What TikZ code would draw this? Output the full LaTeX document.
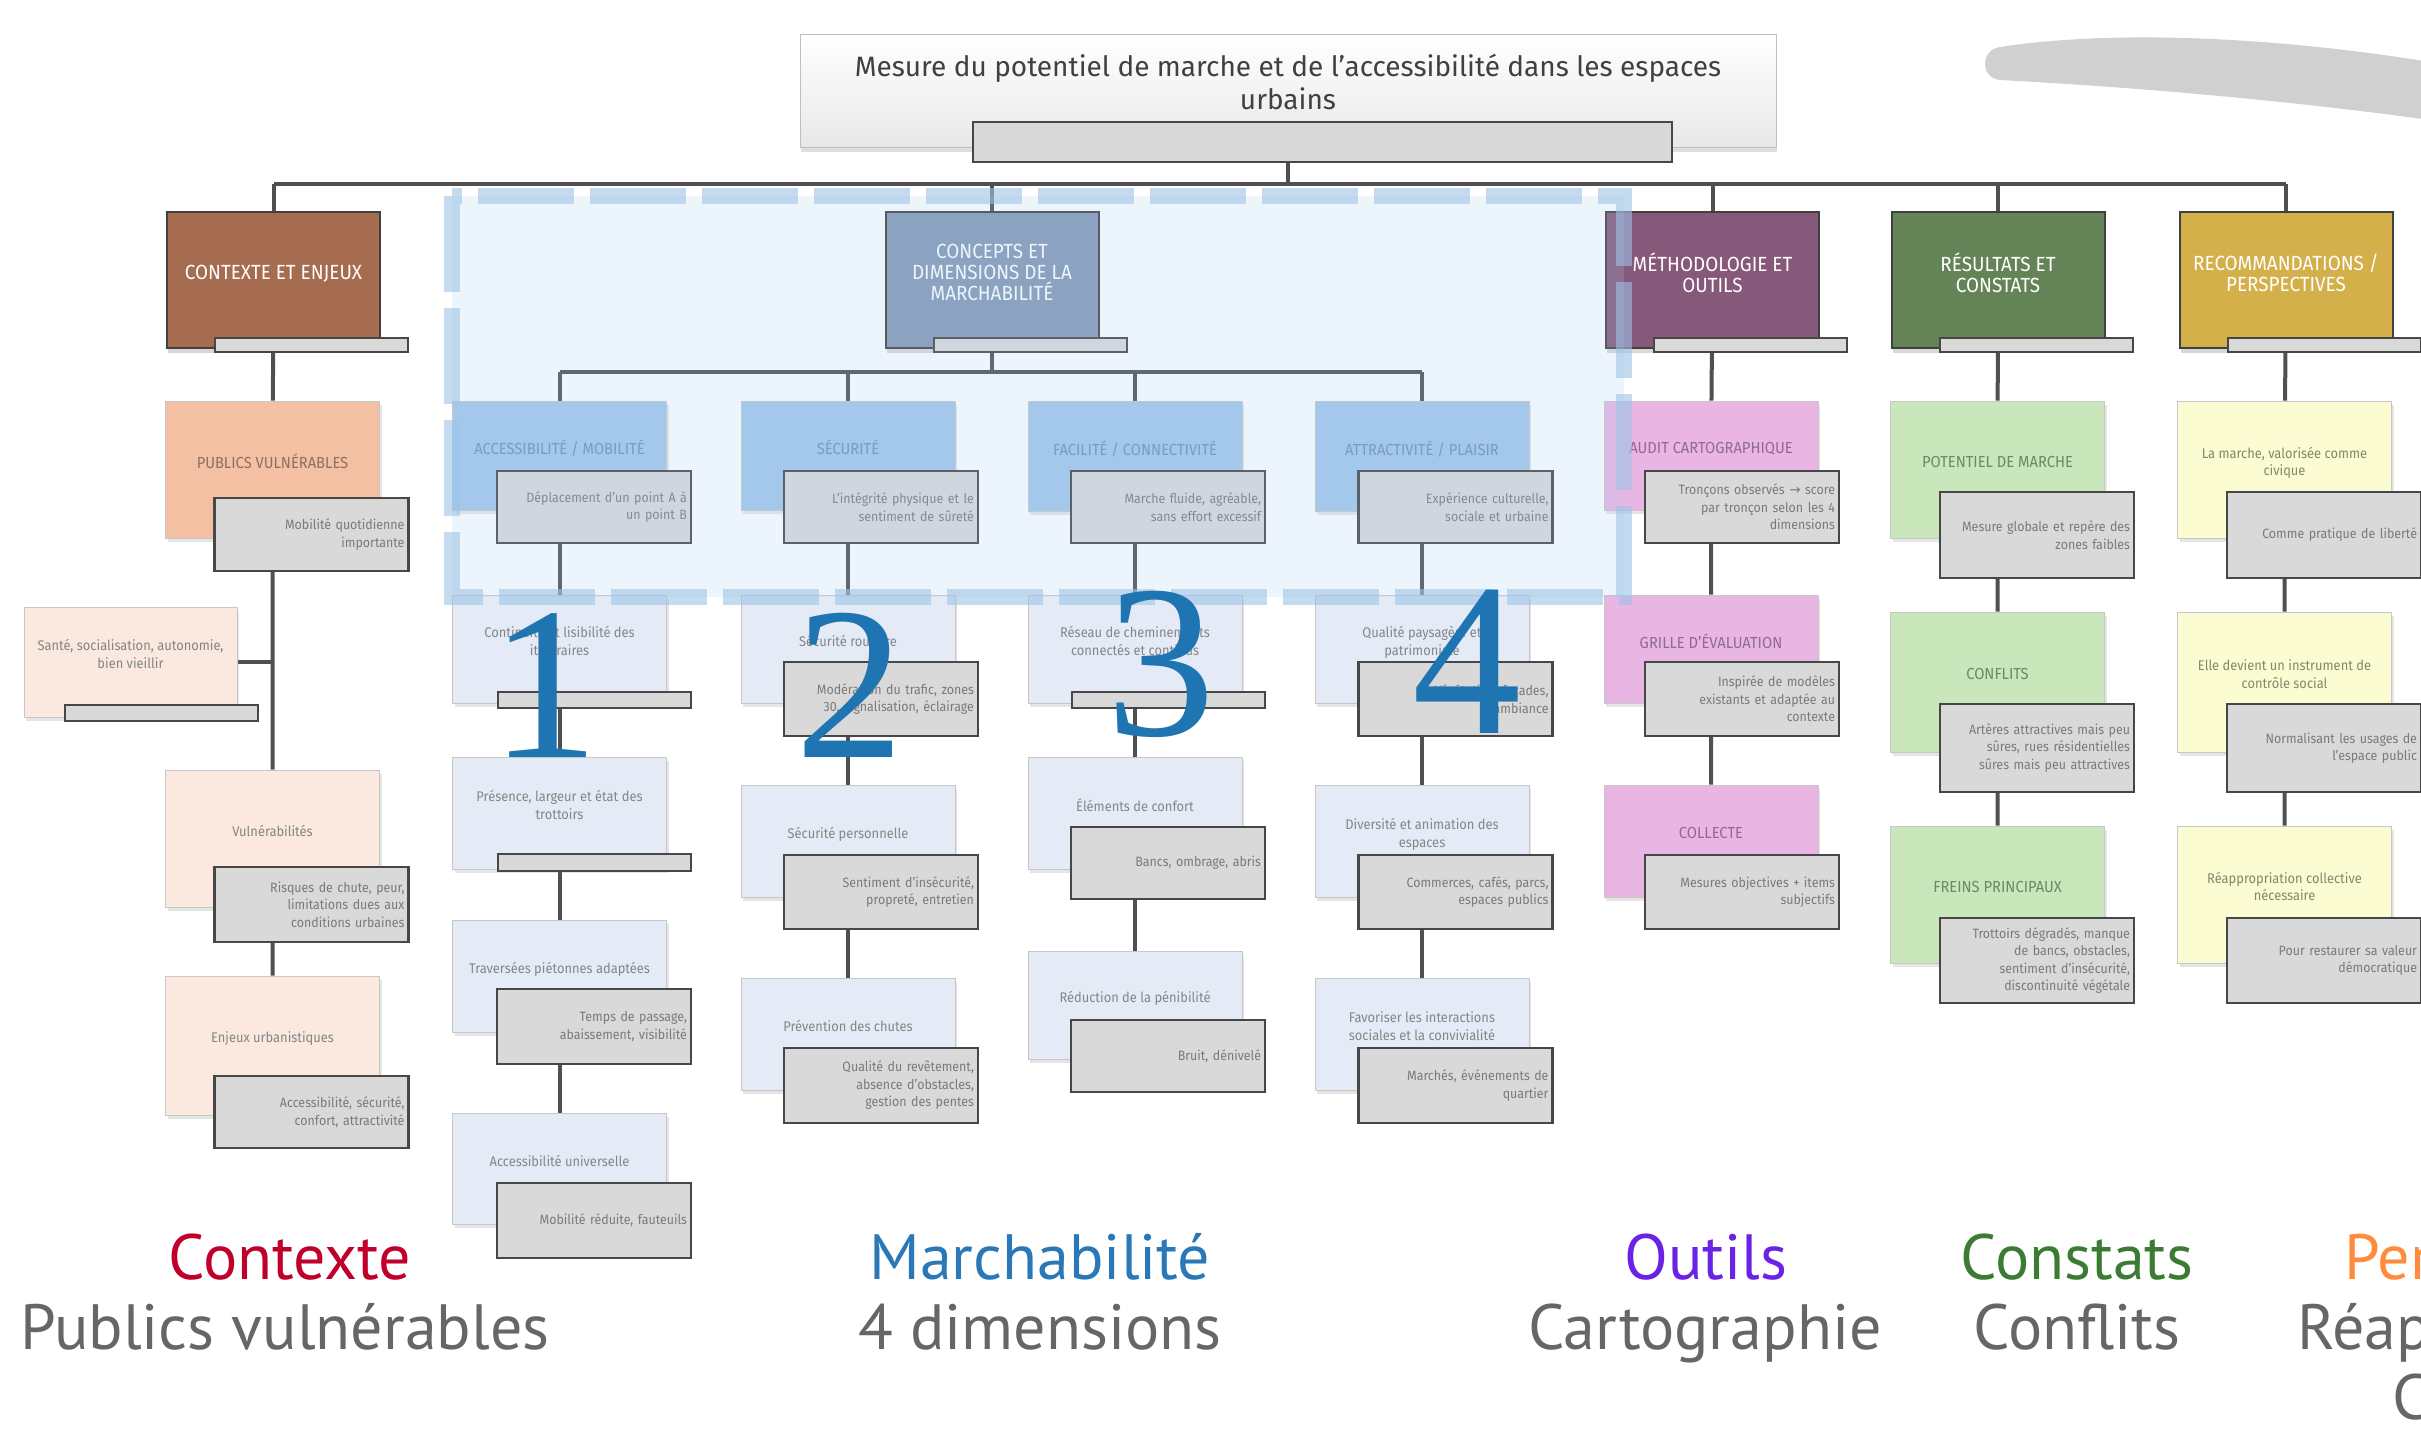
\documentclass[tikz,border=0pt]{standalone}
\usepackage{fontspec}
\setsansfont{Fira Sans}
\newfontfamily\boxfont[FakeStretch=0.92]{Fira Sans}
\newfontfamily\captfont{PT Sans}
\newfontfamily\numfont{Liberation Serif}
\newfontfamily\arrowfont{DejaVu Sans}
\usetikzlibrary{shadows,backgrounds}

\definecolor{linkgray}{HTML}{505050}
\definecolor{barfill}{HTML}{D9D9D9}
\definecolor{itemtext}{HTML}{858585}
\definecolor{notetext}{HTML}{7A7A7A}
\definecolor{titlegray}{HTML}{404040}
\definecolor{ctxbrown}{HTML}{A56C4F}
\definecolor{cptsteel}{HTML}{8499B4}
\definecolor{metplum}{HTML}{86587A}
\definecolor{resgreen}{HTML}{648457}
\definecolor{recgold}{HTML}{D4B04B}
\definecolor{ctxpeach}{HTML}{F4C0A3}
\definecolor{ctxpale}{HTML}{FBE8DE}
\definecolor{cptsky}{HTML}{A2C7EA}
\definecolor{cptpale}{HTML}{E5EBF6}
\definecolor{metpink}{HTML}{E9B6E3}
\definecolor{respale}{HTML}{C9E7BA}
\definecolor{recpale}{HTML}{FBFCD2}
\definecolor{ctxhead}{HTML}{8E6F60}
\definecolor{cpthead}{HTML}{6E90B8}
\definecolor{methead}{HTML}{8E6C8A}
\definecolor{reshead}{HTML}{6B8A60}
\definecolor{rechead}{HTML}{86866A}
\definecolor{overlayfill}{HTML}{A9CDF0}
\definecolor{overlayline}{HTML}{9DC3E6}
\definecolor{numblue}{HTML}{1F75B2}
\definecolor{swoosh}{HTML}{D0D0D0}
\definecolor{captgray}{HTML}{666666}
\definecolor{ctxred}{HTML}{C0002B}
\definecolor{cptblue}{HTML}{2B78B8}
\definecolor{metviolet}{HTML}{6A22E6}
\definecolor{resleaf}{HTML}{3B7B34}
\definecolor{recorange}{HTML}{FF8B3C}

\begin{document}
\begin{tikzpicture}[x=1pt, y=-1pt,
    link/.style={draw=linkgray, line width=4pt},
    titlebox/.style={draw=black!25, line width=1pt, top color=white, bottom color=black!9,
        minimum width=976pt, minimum height=113pt, align=center, text=titlegray,
        font=\sffamily\fontsize{28}{33}\selectfont, text depth=18pt,
        drop shadow={shadow xshift=1pt, shadow yshift=-5pt, opacity=0.25}},
    topbox/.style={draw=black!75, line width=2pt, minimum width=213pt, minimum height=136pt,
        inner sep=2pt, align=center, text=white, font=\boxfont\fontsize{20.5}{21}\selectfont,
        text depth=15pt,
        drop shadow={shadow xshift=1pt, shadow yshift=-5pt, opacity=0.3}},
    tabbar/.style={draw=black!72, line width=2pt, fill=barfill, minimum width=193pt, inner sep=0pt},
    itembox/.style={draw=black!22, line width=0.8pt, minimum width=214pt, inner sep=2pt,
        align=center, text=itemtext, font=\boxfont\fontsize{14}{17.5}\selectfont,
        text depth=16pt,
        drop shadow={shadow xshift=2pt, shadow yshift=-4pt, opacity=0.2}},
    headbox/.style={itembox, font=\boxfont\fontsize{16}{19}\selectfont},
    notebox/.style={draw=black!72, line width=2.2pt, fill=barfill, text width=186pt,
        inner xsep=4pt, inner ysep=2pt, align=right, text=notetext,
        font=\boxfont\fontsize{13.5}{17.5}\selectfont},
    numeral/.style={text=numblue, font=\numfont\fontsize{218}{218}\selectfont, inner sep=0pt, anchor=base},
    capt/.style={font=\captfont\fontsize{64}{70}\selectfont, inner sep=0pt, anchor=base},
]
\useasboundingbox (0,0) rectangle (2421,1428);
\clip (0,0) rectangle (2421,1428);
\begin{scope}[on background layer]
    \fill[white] (0,0) rectangle (2421,1428);
\end{scope}

% Grey brush stroke
\fill[swoosh] (2000,47) .. controls (2110,30) and (2270,36) .. (2430,62) -- (2430,120)
    .. controls (2300,102) and (2150,88) .. (2000,80) .. controls (1980,78) and (1980,50) .. (2000,47);

% Title
\node[titlebox] (title) at (1288,90.5) {Mesure du potentiel de marche et de l’accessibilité dans les espaces\\urbains};
\node[tabbar, minimum width=699pt, minimum height=40pt] (titlebar) at (1322.5,142) {};
\coordinate (bus) at (1288,184);

% Main branches
\node[topbox, fill=ctxbrown] (ctx) at (273.5,280) {CONTEXTE ET ENJEUX};
\node[topbox, fill=cptsteel] (cpt) at (992,280) {CONCEPTS ET\\DIMENSIONS DE LA\\MARCHABILITÉ};
\node[topbox, fill=metplum] (met) at (1712.5,280) {MÉTHODOLOGIE ET\\OUTILS};
\node[topbox, fill=resgreen] (res) at (1998,280) {RÉSULTATS ET\\CONSTATS};
\node[topbox, fill=recgold] (rec) at (2286,280) {RECOMMANDATIONS /\\PERSPECTIVES};
\node[tabbar, minimum height=14pt] (ctxbar) at (311.5,345) {};
\node[tabbar, minimum height=14pt] (cptbar) at (1030.5,345) {};
\node[tabbar, minimum height=14pt] (metbar) at (1750.5,345) {};
\node[tabbar, minimum height=14pt] (resbar) at (2036.5,345) {};
\node[tabbar, minimum height=14pt] (recbar) at (2324.5,345) {};

% Contexte column
\node[headbox, fill=ctxpeach, text=ctxhead, minimum height=137pt] (pub) at (272.5,469.5) {PUBLICS VULNÉRABLES};
\node[notebox, minimum height=73pt] (pubnote) at (311.5,534.5) {Mobilité quotidienne\\importante};
\node[itembox, fill=ctxpale, minimum width=213pt, minimum height=110pt] (sante) at (130.5,662) {Santé, socialisation, autonomie,\\bien vieillir};
\node[tabbar, minimum height=16pt] (santebar) at (161.5,713) {};
\node[itembox, fill=ctxpale, minimum height=137pt] (vul) at (272.5,838.5) {Vulnérabilités};
\node[notebox, minimum height=75pt] (vulnote) at (311.5,904.5) {Risques de chute, peur,\\limitations dues aux\\conditions urbaines};
\node[itembox, fill=ctxpale, minimum height=139pt] (enj) at (272.5,1045.5) {Enjeux urbanistiques};
\node[notebox, minimum height=72pt] (enjnote) at (311.5,1112) {Accessibilité, sécurité,\\confort, attractivité};

% Dimension 1
\node[headbox, fill=cptsky, text=cpthead, minimum height=109pt] (acc) at (559.5,455.5) {ACCESSIBILITÉ / MOBILITÉ};
\node[notebox, minimum height=72pt] (accnote) at (594,507) {Déplacement d’un point A à\\un point B};
\node[itembox, fill=cptpale, minimum height=108pt] (cont) at (559.5,649) {Continuité et lisibilité des\\itinéraires};
\node[tabbar, minimum height=16pt] (contbar) at (594,700) {};
\node[itembox, fill=cptpale, minimum height=112pt] (pres) at (559.5,813) {Présence, largeur et état des\\trottoirs};
\node[tabbar, minimum height=17pt] (presbar) at (594,862.5) {};
\node[itembox, fill=cptpale, minimum height=112pt] (trav) at (559.5,976) {Traversées piétonnes adaptées};
\node[notebox, minimum height=75pt] (travnote) at (594,1026.5) {Temps de passage,\\abaissement, visibilité};
\node[itembox, fill=cptpale, minimum height=111pt] (univ) at (559.5,1168.5) {Accessibilité universelle};
\node[notebox, minimum height=75pt] (univnote) at (594,1220.5) {Mobilité réduite, fauteuils};

% Dimension 2
\node[headbox, fill=cptsky, text=cpthead, minimum height=109pt] (secu) at (848,455.5) {SÉCURITÉ};
\node[notebox, minimum height=72pt] (secunote) at (881,507) {L’intégrité physique et le\\sentiment de sûreté};
\node[itembox, fill=cptpale, minimum height=108pt] (route) at (848,649) {Sécurité routière};
\node[notebox, minimum height=74pt] (routenote) at (881,699) {Modération du trafic, zones\\30, signalisation, éclairage};
\node[itembox, fill=cptpale, minimum height=112pt] (perso) at (848,841) {Sécurité personnelle};
\node[notebox, minimum height=74pt] (personote) at (881,892) {Sentiment d’insécurité,\\propreté, entretien};
\node[itembox, fill=cptpale, minimum height=112pt] (chute) at (848,1034) {Prévention des chutes};
\node[notebox, minimum height=75pt] (chutenote) at (881,1085.5) {Qualité du revêtement,\\absence d’obstacles,\\gestion des pentes};

% Dimension 3
\node[headbox, fill=cptsky, text=cpthead, minimum height=110pt] (faci) at (1135,456) {FACILITÉ / CONNECTIVITÉ};
\node[notebox, minimum height=72pt] (facinote) at (1168,507) {Marche fluide, agréable,\\sans effort excessif};
\node[itembox, fill=cptpale, minimum height=108pt] (reseau) at (1135,649) {Réseau de cheminements\\connectés et continus};
\node[tabbar, minimum height=16pt] (reseaubar) at (1168,700) {};
\node[itembox, fill=cptpale, minimum height=112pt] (confort) at (1135,813) {Éléments de confort};
\node[notebox, minimum height=72pt] (confortnote) at (1168,863) {Bancs, ombrage, abris};
\node[itembox, fill=cptpale, minimum height=108pt] (penib) at (1135,1005) {Réduction de la pénibilité};
\node[notebox, minimum height=72pt] (penibnote) at (1168,1056) {Bruit, dénivelé};

% Dimension 4
\node[headbox, fill=cptsky, text=cpthead, minimum height=110pt] (attr) at (1422,456) {ATTRACTIVITÉ / PLAISIR};
\node[notebox, minimum height=72pt] (attrnote) at (1455.5,507) {Expérience culturelle,\\sociale et urbaine};
\node[itembox, fill=cptpale, minimum height=108pt] (paysage) at (1422,649) {Qualité paysagère et\\patrimoniale};
\node[notebox, minimum height=74pt] (paysagenote) at (1455.5,699) {Végétation, façades,\\ambiance};
\node[itembox, fill=cptpale, minimum height=112pt] (divers) at (1422,841) {Diversité et animation des\\espaces};
\node[notebox, minimum height=74pt] (diversnote) at (1455.5,892) {Commerces, cafés, parcs,\\espaces publics};
\node[itembox, fill=cptpale, minimum height=112pt] (convi) at (1422,1034) {Favoriser les interactions\\sociales et la convivialité};
\node[notebox, minimum height=75pt] (convinote) at (1455.5,1085.5) {Marchés, événements de\\quartier};

% Methodologie column
\node[headbox, fill=metpink, text=methead, minimum height=109pt] (audit) at (1711,455.5) {AUDIT CARTOGRAPHIQUE};
\node[notebox, minimum height=72pt] (auditnote) at (1742,507) {Tronçons observés {\arrowfont →} score\\par tronçon selon les 4\\dimensions};
\node[headbox, fill=metpink, text=methead, minimum height=108pt] (grille) at (1711,649) {GRILLE D’ÉVALUATION};
\node[notebox, minimum height=74pt] (grillenote) at (1742,699) {Inspirée de modèles\\existants et adaptée au\\contexte};
\node[headbox, fill=metpink, text=methead, minimum height=112pt] (collecte) at (1711,841) {COLLECTE};
\node[notebox, minimum height=74pt] (collectenote) at (1742,892) {Mesures objectives + items\\subjectifs};

% Resultats column
\node[headbox, fill=respale, text=reshead, minimum height=137pt] (potent) at (1997.5,469.5) {POTENTIEL DE MARCHE};
\node[notebox, minimum height=86pt] (potentnote) at (2037,535) {Mesure globale et repère des\\zones faibles};
\node[headbox, fill=respale, text=reshead, minimum height=140pt] (conflit) at (1997.5,682) {CONFLITS};
\node[notebox, minimum height=88pt] (conflitnote) at (2037,748) {Artères attractives mais peu\\sûres, rues résidentielles\\sûres mais peu attractives};
\node[headbox, fill=respale, text=reshead, minimum height=137pt] (freins) at (1997.5,894.5) {FREINS PRINCIPAUX};
\node[notebox, minimum height=85pt] (freinsnote) at (2037,960.5) {Trottoirs dégradés, manque\\de bancs, obstacles,\\sentiment d’insécurité,\\discontinuité végétale};

% Recommandations column
\node[itembox, fill=recpale, text=rechead, minimum height=137pt] (valor) at (2284.5,469.5) {La marche, valorisée comme\\civique};
\node[notebox, minimum height=86pt] (valornote) at (2324,535) {Comme pratique de liberté};
\node[itembox, fill=recpale, text=rechead, minimum height=140pt] (controle) at (2284.5,682) {Elle devient un instrument de\\contrôle social};
\node[notebox, minimum height=88pt] (controlenote) at (2324,748) {Normalisant les usages de\\l’espace public};
\node[itembox, fill=recpale, text=rechead, minimum height=137pt] (reappro) at (2284.5,894.5) {Réappropriation collective\\nécessaire};
\node[notebox, minimum height=85pt] (reappronote) at (2324,960.5) {Pour restaurer sa valeur\\démocratique};

% Connectors
\begin{scope}[on background layer]
    \draw[link] (title) -- (bus);
    \draw[link] (ctx.north |- bus) -- (rec.north |- bus);
    \foreach \hd in {ctx,cpt,met,res,rec}
        \draw[link] (\hd.north |- bus) -- (\hd);
    \draw[link] (ctx) -- (pub) -- (vul) -- (enj);
    \draw[link] (sante) -- (sante -| pub);
    \coordinate (subbus) at (992,372);
    \draw[link] (cpt) -- (subbus);
    \draw[link] (acc |- subbus) -- (attr |- subbus);
    \foreach \hd in {acc,secu,faci,attr}
        \draw[link] (\hd |- subbus) -- (\hd);
    \draw[link] (acc) -- (cont) -- (pres) -- (trav) -- (univ);
    \draw[link] (secu) -- (route) -- (perso) -- (chute);
    \draw[link] (faci) -- (reseau) -- (confort) -- (penib);
    \draw[link] (attr) -- (paysage) -- (divers) -- (convi);
    \draw[link] (met) -- (audit) -- (grille) -- (collecte);
    \draw[link] (res) -- (potent) -- (conflit) -- (freins);
    \draw[link] (rec) -- (valor) -- (controle) -- (reappro);
\end{scope}

% Highlight of the four dimensions
\fill[overlayfill, fill opacity=0.2] (452,196) rectangle (1624,597);
\draw[overlayline, draw opacity=0.6, line width=16pt, dash pattern=on 96pt off 16pt] (452,196) rectangle (1624,597);
\node[numeral] (one) at (545,757) {1};
\node[numeral] (two) at (850,757) {2};
\node[numeral] (three) at (1161,735) {3};
\node[numeral] (four) at (1467,733) {4};

% Captions
\node[capt, text=ctxred] (ctxcap) at (290,1279) {Contexte};
\node[capt, text=captgray] (ctxsub) at (285,1349) {Publics vulnérables};
\node[capt, text=cptblue] (cptcap) at (1040,1279) {Marchabilité};
\node[capt, text=captgray] (cptsub) at (1040,1349) {4 dimensions};
\node[capt, text=metviolet] (metcap) at (1706,1279) {Outils};
\node[capt, text=captgray] (metsub) at (1705,1349) {Cartographie};
\node[capt, text=resleaf] (rescap) at (2077,1279) {Constats};
\node[capt, text=captgray] (ressub) at (2077,1349) {Conflits};
\node[capt, text=recorange, anchor=base west] (reccap) at (2344,1279) {Perspectives};
\node[capt, text=captgray, anchor=base west] (recsub) at (2297,1349) {Réappropriation};
\node[capt, text=captgray, anchor=base west] (recsub2) at (2392,1419) {Collective};
\end{tikzpicture}
\end{document}
